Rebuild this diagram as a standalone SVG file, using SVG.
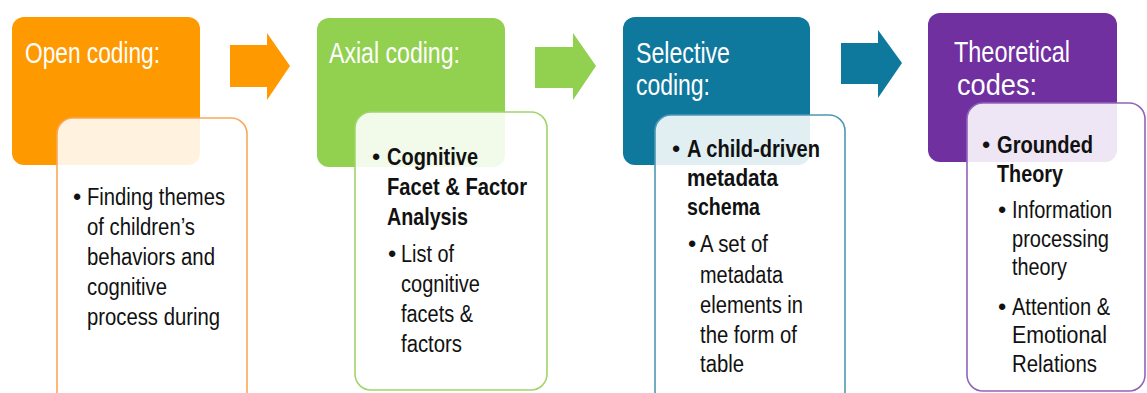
<svg xmlns="http://www.w3.org/2000/svg" width="1147" height="393" viewBox="0 0 1147 393">
<style>
.title{font-family:"Liberation Sans",Arial,sans-serif;font-size:30px;fill:#ffffff}
.body{font-family:"Liberation Sans",Arial,sans-serif;font-size:23.5px;fill:#111111}
.b{font-weight:bold}
.card{fill:#ffffff;fill-opacity:0.88;stroke-width:1.6}
</style>
<rect width="1147" height="393" fill="#ffffff"/>
<g id="connectors">
<path d="M230,45 H267 V33 L290,66 L267,100 V87 H230 Z" fill="#FF9900"/>
<path d="M535,47 H573 V33 L596,66 L573,100 V88 H535 Z" fill="#92D050"/>
<path d="M841,43 H878 V30 L902,63 L878,98 V84 H841 Z" fill="#0F789D"/>
</g>
<g id="node-open-coding">
<rect x="12" y="17" width="188" height="148" rx="12" fill="#FF9900"/>
<text class="title" x="25" y="63" textLength="135" lengthAdjust="spacingAndGlyphs">Open coding:</text>
<rect class="card" x="57" y="118" width="190" height="290" rx="16" stroke="#F9A85A"/>
<text class="body" x="73" y="205">•</text>
<text class="body" x="87" y="205" textLength="138" lengthAdjust="spacingAndGlyphs">Finding themes</text>
<text class="body" x="87" y="235" textLength="108" lengthAdjust="spacingAndGlyphs">of children’s</text>
<text class="body" x="87" y="265" textLength="128" lengthAdjust="spacingAndGlyphs">behaviors and</text>
<text class="body" x="87" y="295" textLength="80" lengthAdjust="spacingAndGlyphs">cognitive</text>
<text class="body" x="87" y="325" textLength="133" lengthAdjust="spacingAndGlyphs">process during</text>
</g>
<g id="node-axial-coding">
<rect x="317" y="18" width="188" height="149" rx="12" fill="#92D050"/>
<text class="title" x="329" y="63" textLength="131" lengthAdjust="spacingAndGlyphs">Axial coding:</text>
<rect class="card" x="355" y="112" width="192" height="278" rx="16" stroke="#A0D56A"/>
<text class="body" x="372" y="165">•</text>
<text class="body b" x="387" y="165" textLength="91" lengthAdjust="spacingAndGlyphs">Cognitive</text>
<text class="body b" x="387" y="195" textLength="140" lengthAdjust="spacingAndGlyphs">Facet &amp; Factor</text>
<text class="body b" x="387" y="225" textLength="81" lengthAdjust="spacingAndGlyphs">Analysis</text>
<text class="body" x="388" y="262">•</text>
<text class="body" x="401" y="262" textLength="53" lengthAdjust="spacingAndGlyphs">List of</text>
<text class="body" x="401" y="292" textLength="79" lengthAdjust="spacingAndGlyphs">cognitive</text>
<text class="body" x="401" y="322" textLength="72" lengthAdjust="spacingAndGlyphs">facets &amp;</text>
<text class="body" x="401" y="352" textLength="61" lengthAdjust="spacingAndGlyphs">factors</text>
</g>
<g id="node-selective-coding">
<rect x="623" y="17" width="187" height="148" rx="12" fill="#0F789D"/>
<text class="title" x="636" y="63" textLength="94" lengthAdjust="spacingAndGlyphs">Selective</text>
<text class="title" x="636" y="95" textLength="74" lengthAdjust="spacingAndGlyphs">coding:</text>
<rect class="card" x="655" y="115" width="190" height="292" rx="16" stroke="#4F98B4"/>
<text class="body" x="672" y="157">•</text>
<text class="body b" x="687" y="157" textLength="133" lengthAdjust="spacingAndGlyphs">A child-driven</text>
<text class="body b" x="687" y="186" textLength="91" lengthAdjust="spacingAndGlyphs">metadata</text>
<text class="body b" x="687" y="215" textLength="73" lengthAdjust="spacingAndGlyphs">schema</text>
<text class="body" x="688" y="252">•</text>
<text class="body" x="700" y="252" textLength="68" lengthAdjust="spacingAndGlyphs">A set of</text>
<text class="body" x="700" y="283" textLength="83" lengthAdjust="spacingAndGlyphs">metadata</text>
<text class="body" x="700" y="313" textLength="103" lengthAdjust="spacingAndGlyphs">elements in</text>
<text class="body" x="700" y="343" textLength="97" lengthAdjust="spacingAndGlyphs">the form of</text>
<text class="body" x="700" y="372" textLength="44" lengthAdjust="spacingAndGlyphs">table</text>
</g>
<g id="node-theoretical-codes">
<rect x="928" y="13" width="189" height="149" rx="12" fill="#7030A0"/>
<text class="title" x="954" y="62" textLength="116" lengthAdjust="spacingAndGlyphs">Theoretical</text>
<text class="title" x="957" y="95" textLength="80" lengthAdjust="spacingAndGlyphs">codes:</text>
<rect class="card" x="967" y="103" width="178" height="288" rx="16" stroke="#9263B8"/>
<text class="body" x="982" y="153">•</text>
<text class="body b" x="997" y="153" textLength="96" lengthAdjust="spacingAndGlyphs">Grounded</text>
<text class="body b" x="997" y="182" textLength="66" lengthAdjust="spacingAndGlyphs">Theory</text>
<text class="body" x="998" y="218">•</text>
<text class="body" x="1012" y="218" textLength="100" lengthAdjust="spacingAndGlyphs">Information</text>
<text class="body" x="1012" y="247" textLength="97" lengthAdjust="spacingAndGlyphs">processing</text>
<text class="body" x="1012" y="275" textLength="55" lengthAdjust="spacingAndGlyphs">theory</text>
<text class="body" x="998" y="315">•</text>
<text class="body" x="1012" y="315" textLength="98" lengthAdjust="spacingAndGlyphs">Attention &amp;</text>
<text class="body" x="1012" y="343" textLength="95" lengthAdjust="spacingAndGlyphs">Emotional</text>
<text class="body" x="1012" y="372" textLength="85" lengthAdjust="spacingAndGlyphs">Relations</text>
</g>
</svg>
